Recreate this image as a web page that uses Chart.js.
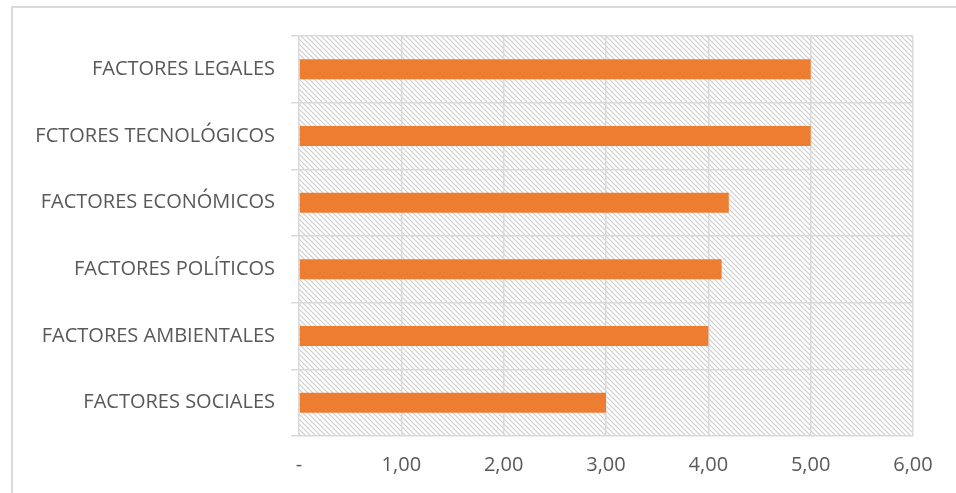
<!DOCTYPE html>
<html>
<head>
<meta charset="utf-8">
<script src="https://cdn.jsdelivr.net/npm/chart.js@4"></script>
<style>
  html, body { margin: 0; padding: 0; background: #fff; }
  #wrap { width: 956px; height: 493px; position: relative; }
</style>
</head>
<body>
<div id="wrap"><canvas id="chart" width="956" height="493"></canvas></div>
<script>
var factores = ['FACTORES LEGALES', 'FCTORES TECNOLÓGICOS', 'FACTORES ECONÓMICOS', 'FACTORES POLÍTICOS', 'FACTORES AMBIENTALES', 'FACTORES SOCIALES'];
var puntajes = [5.0, 5.0, 4.2, 4.13, 4.0, 3.0];
var xTicks = [0, 1, 2, 3, 4, 5, 6];

var gridColor = '#d9d9d9';
var textColor = '#595959';

// diagonal hatch for the plot background
function makeHatch(ctx) {
  var c = document.createElement('canvas');
  c.width = 5; c.height = 5;
  var g = c.getContext('2d');
  g.fillStyle = '#fff';
  g.fillRect(0, 0, 5, 5);
  g.strokeStyle = '#cccccc';
  g.lineWidth = 1.1;
  g.beginPath();
  g.moveTo(-1, -1); g.lineTo(6, 6);
  g.moveTo(-1, 4); g.lineTo(1, 6);
  g.moveTo(4, -1); g.lineTo(6, 1);
  g.stroke();
  return ctx.createPattern(c, 'repeat');
}

var backdrop = {
  id: 'backdrop',
  beforeDraw: function (chart) {
    var ctx = chart.ctx, a = chart.chartArea;
    ctx.save();
    // outer frame (only left and top are inside the picture)
    ctx.strokeStyle = gridColor;
    ctx.lineWidth = 2;
    ctx.beginPath();
    ctx.moveTo(12, 493); ctx.lineTo(12, 7); ctx.lineTo(956, 7);
    ctx.stroke();
    ctx.fillStyle = makeHatch(ctx);
    ctx.fillRect(a.left, a.top, a.right - a.left, a.bottom - a.top);
    ctx.restore();
  }
};

new Chart(document.getElementById('chart'), {
  type: 'bar',
  data: {
    labels: factores,
    datasets: [{
      data: puntajes,
      backgroundColor: '#ed7d31',
      barPercentage: 0.3,
      categoryPercentage: 1
    }]
  },
  options: {
    indexAxis: 'y',
    responsive: false,
    animation: false,
    layout: { padding: { top: 36, right: 43, bottom: 0, left: 0 } },
    plugins: { legend: { display: false }, tooltip: { enabled: false } },
    scales: {
      x: {
        min: 0, max: 6,
        afterBuildTicks: function (scale) {
          scale.ticks = xTicks.map(function (v) { return { value: v }; });
        },
        afterFit: function (scale) { scale.height = 57; },
        grid: { color: gridColor, lineWidth: 1.5, drawTicks: false, tickLength: 0 },
        border: { display: false },
        ticks: {
          padding: 17,
          color: textColor,
          font: { family: 'Open Sans', size: 20 },
          callback: function (v) { return v === 0 ? '-' : v.toFixed(2).replace('.', ','); }
        }
      },
      y: {
        afterFit: function (scale) { scale.width = 299; },
        grid: { color: gridColor, lineWidth: 1.5, offset: true, drawTicks: true, tickLength: 8 },
        border: { display: false },
        ticks: {
          padding: 16,
          color: textColor,
          font: { family: 'Open Sans', size: 20 }
        }
      }
    }
  },
  plugins: [backdrop]
});
</script>
</body>
</html>
